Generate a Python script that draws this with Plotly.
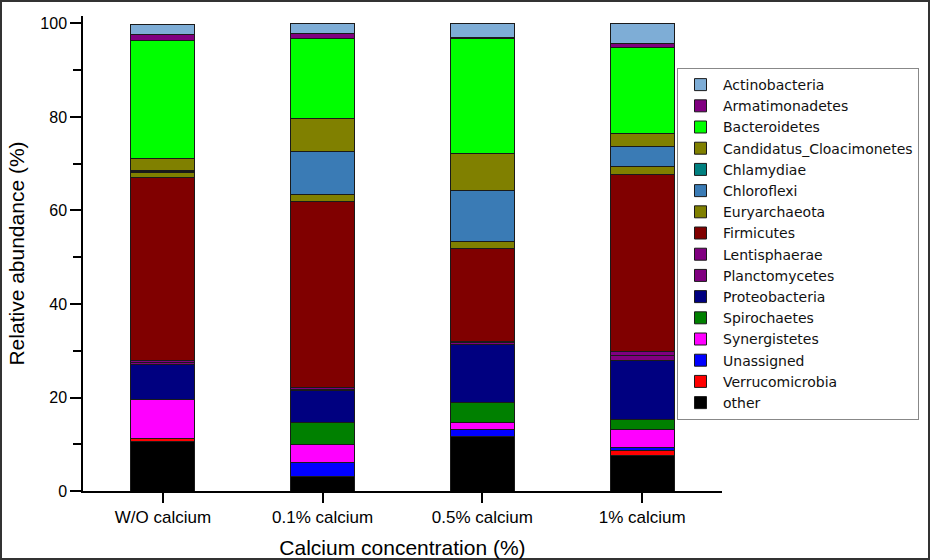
import plotly.graph_objects as go

categories = ["W/O calcium", "0.1% calcium", "0.5% calcium", "1% calcium"]

# stacking order: bottom to top
phyla = ["other", "Verrucomicrobia", "Unassigned", "Synergistetes", "Spirochaetes",
         "Proteobacteria", "Planctomycetes", "Lentisphaerae", "Firmicutes",
         "Euryarchaeota", "Chloroflexi", "Chlamydiae", "Candidatus_Cloacimonetes",
         "Bacteroidetes", "Armatimonadetes", "Actinobacteria"]

other = [10.5, 3.2, 11.75, 7.7]
verrucomicrobia = [0.7, 0.0, 0.0, 0.9]
unassigned = [0.0, 2.85, 1.45, 0.7]
synergistetes = [8.3, 4.0, 1.5, 3.9]
spirochaetes = [0.0, 4.7, 4.3, 2.0]
proteobacteria = [7.5, 6.7, 12.4, 12.8]
planctomycetes = [0.5, 0.3, 0.3, 0.9]
lentisphaerae = [0.5, 0.3, 0.2, 0.9]
firmicutes = [39.1, 39.9, 20.0, 37.9]
euryarchaeota = [1.0, 1.4, 1.5, 1.7]
chloroflexi = [0.2, 9.2, 10.9, 4.2]
chlamydiae = [0.3, 0.0, 0.0, 0.0]
candidatus = [2.6, 7.2, 7.9, 2.8]
bacteroidetes = [25.2, 17.1, 24.5, 18.4]
armatimonadetes = [1.2, 1.0, 0.3, 0.9]
actinobacteria = [2.2, 2.1, 2.9, 4.3]

values = [other, verrucomicrobia, unassigned, synergistetes, spirochaetes,
          proteobacteria, planctomycetes, lentisphaerae, firmicutes,
          euryarchaeota, chloroflexi, chlamydiae, candidatus,
          bacteroidetes, armatimonadetes, actinobacteria]

colors = ["#000000", "#FF0000", "#0000FF", "#FF00FF", "#008000",
          "#000080", "#800080", "#800080", "#800000",
          "#808000", "#3A7BB5", "#008080", "#808000",
          "#00FF00", "#800080", "#7EADD6"]

font = "Liberation Sans, Arial, sans-serif"

fig = go.Figure()
for name, vals, col in zip(phyla, values, colors):
    fig.add_trace(go.Bar(
        x=categories, y=vals, name=name,
        marker=dict(color=col, line=dict(color="#1a1a1a", width=1)),
        width=0.4,
    ))

fig.update_layout(
    width=930, height=560,
    barmode="stack",
    paper_bgcolor="white", plot_bgcolor="white",
    margin=dict(l=83, r=208, t=16, b=69, autoexpand=False),
    font=dict(family=font, color="black"),
    showlegend=True,
    legend=dict(
        traceorder="reversed",
        x=0.9296, xanchor="left", y=0.8905, yanchor="top",
        bgcolor="white", bordercolor="#888888", borderwidth=1,
        itemwidth=35,
        font=dict(family="DejaVu Sans, sans-serif", size=14, color="#111111"),
    ),
    xaxis=dict(
        range=[-0.5, 3.5],
        showline=True, linecolor="black", linewidth=1.5,
        ticks="outside", ticklen=10, tickwidth=1.5, tickcolor="black",
        tickfont=dict(size=17),
        title=dict(text="Calcium concentration (%)", font=dict(size=21), standoff=14),
        showgrid=False, zeroline=False,
    ),
    yaxis=dict(
        range=[0, 101.6],
        tickvals=[0, 20, 40, 60, 80, 100],
        showline=True, linecolor="black", linewidth=1.5,
        ticks="outside", ticklen=11, tickwidth=1.5, tickcolor="black",
        minor=dict(tickvals=[10, 30, 50, 70, 90], ticks="outside", ticklen=8,
                   tickwidth=1.5, tickcolor="black"),
        tickfont=dict(size=16),
        title=dict(text="Relative abundance (%)", font=dict(size=21), standoff=10),
        showgrid=False, zeroline=False,
    ),
    shapes=[dict(type="rect", xref="paper", yref="paper",
                 x0=(1 - 83) / 639, x1=(929 - 83) / 639,
                 y0=(491 - 559) / 475, y1=(491 - 1) / 475,
                 line=dict(color="#333333", width=2))],
)

fig.write_html("out.html", config={"displayModeBar": False},
               post_script="document.body.style.margin='0';document.body.style.padding='0';")
